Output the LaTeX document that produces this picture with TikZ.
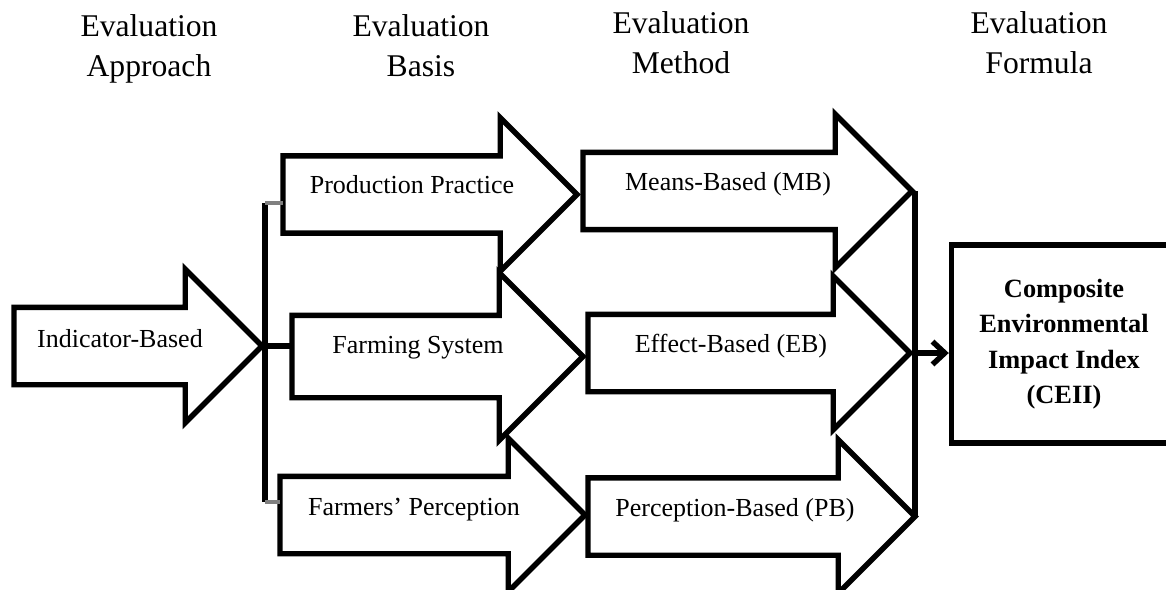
\documentclass[tikz,border=0pt]{standalone}
\usepackage{fontspec}
\setmainfont{Liberation Serif}
\usetikzlibrary{shapes.arrows,arrows.meta}
\tikzset{
	bigarrow/.style={single arrow, draw, line width=3.1pt, inner sep=0pt, outer sep=0pt,
		inner ysep=0.72cm, single arrow head extend=0.76cm, minimum width=1pt, anchor=tail},
	lbl/.style={font=\fontsize{14.8}{17}\selectfont, anchor=base, inner sep=0pt},
	hdr/.style={font=\fontsize{18}{22.8}\selectfont, align=center, anchor=north, inner sep=0pt},
	bar/.style={line width=3.1pt},
	stub/.style={line width=2.6pt, gray},
}
\begin{document}
\begin{tikzpicture}[x=0.02cm, y=-0.02cm]
		\useasboundingbox (0,0) rectangle (1166,589);
		\clip (0,0) rectangle (1166,589);

		\node[hdr] (h1) at (149,14) {Evaluation\\Approach};
		\node[hdr] (h2) at (421,14) {Evaluation\\Basis};
		\node[hdr] (h3) at (681,11) {Evaluation\\Method};
		\node[hdr] (h4) at (1039,11) {Evaluation\\Formula};

		\node[bigarrow, minimum height=4.96cm] (ia) at (14,346) {};
		\node[bigarrow, minimum height=5.88cm] (pp) at (283,194.5) {};
		\node[bigarrow, minimum height=5.82cm, inner ysep=0.77cm, single arrow head extend=0.85cm] (fs) at (292,356.5) {};
		\node[bigarrow, minimum height=6.1cm] (fp) at (280,515) {};
		\node[bigarrow, minimum height=6.58cm] (mb) at (583,191) {};
		\node[bigarrow, minimum height=6.44cm] (eb) at (588,353) {};
		\node[bigarrow, minimum height=6.54cm] (pb) at (588,516.5) {};

		\node[lbl] (iat) at (120,347) {Indicator-Based};
		\node[lbl] (ppt) at (412,193) {Production Practice};
		\node[lbl] (fst) at (418,353) {Farming System};
		\node[lbl] (fpt) at (414,515) {Farmers’ Perception};
		\node[lbl] (mbt) at (728,190) {Means-Based (MB)};
		\node[lbl] (ebt) at (731,352) {Effect-Based (EB)};
		\node[lbl] (pbt) at (735,516) {Perception-Based (PB)};

		\node[draw, line width=3.1pt, minimum width=4.5cm, minimum height=3.96cm,
			align=center, font=\bfseries\fontsize{15}{20.2}\selectfont] (ceii) at (1064,344)
			{Composite\\Environmental\\Impact Index\\(CEII)};

		\coordinate (lt) at (265,203);
		\coordinate (lb) at (265,502);
		\draw[bar] (lt) -- (lb);
		\draw[stub] (lt) -- (lt -| pp.tail);
		\draw[stub] (lb) -- (lb -| fp.tail);
		\draw[bar] (ia.tip -| lt) -- (ia.tip -| fs.tail);

		\draw[bar] (pb.tip |- mb.tip) -- (pb.tip);
		\draw[bar, -{Straight Barb[length=7pt, width=13pt]}] (eb.tip -| pb.tip) -- (eb.tip -| ceii.west);
	\end{tikzpicture}
\end{document}
